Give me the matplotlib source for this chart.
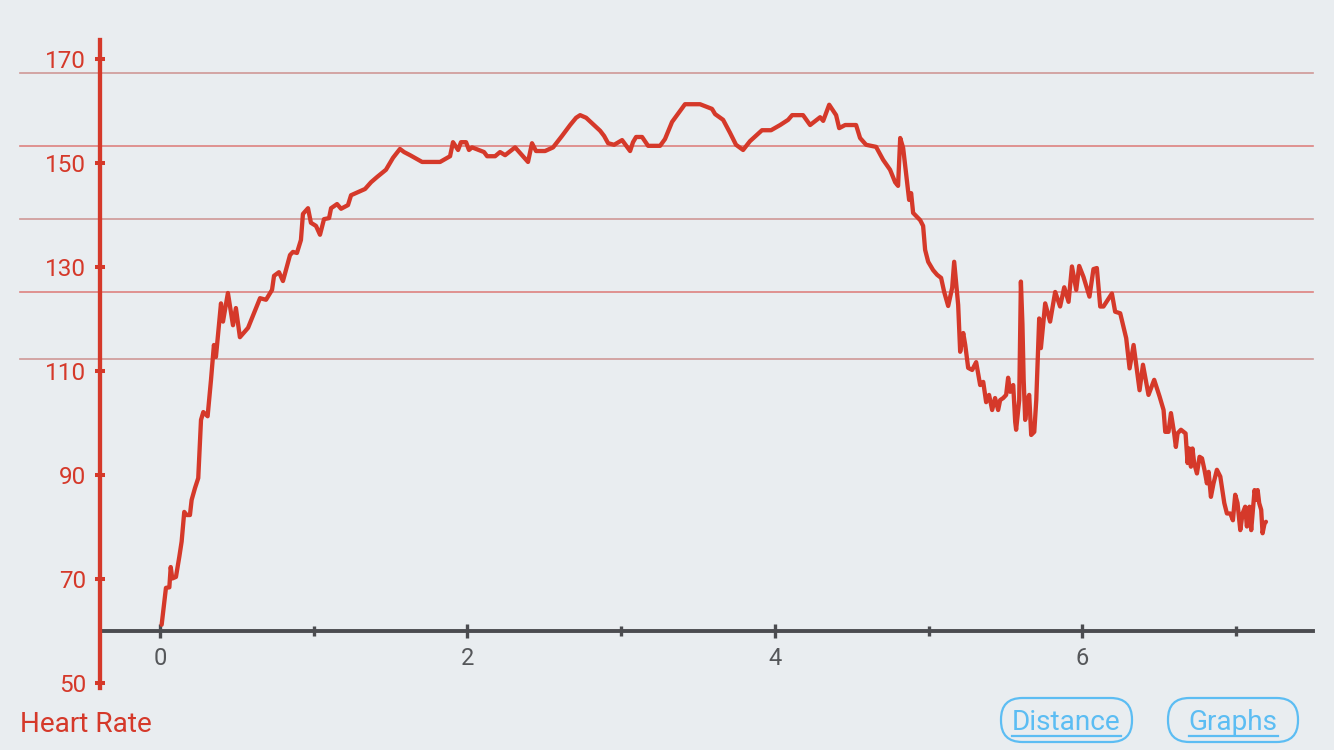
import matplotlib
matplotlib.use("Agg")
import matplotlib.pyplot as plt
from matplotlib.patches import FancyBboxPatch
from matplotlib.lines import Line2D

# ---- data ----
distance = [0.011, 0.039, 0.061, 0.070, 0.080, 0.104, 0.126, 0.141, 0.158, 0.174, 0.195, 0.206, 0.228, 0.249,
            0.267, 0.282, 0.310, 0.332, 0.351, 0.364, 0.384, 0.397, 0.410, 0.442, 0.475, 0.494, 0.520, 0.573,
            0.651, 0.690, 0.729, 0.742, 0.774, 0.800, 0.846, 0.865, 0.891, 0.917, 0.930, 0.963, 0.982, 1.015,
            1.041, 1.067, 1.100, 1.113, 1.152, 1.178, 1.223, 1.243, 1.334, 1.373, 1.412, 1.470, 1.516, 1.561,
            1.588, 1.627, 1.705, 1.822, 1.887, 1.906, 1.939, 1.958, 1.991, 2.010, 2.030, 2.108, 2.128, 2.180,
            2.212, 2.245, 2.310, 2.394, 2.420, 2.446, 2.505, 2.557, 2.615, 2.668, 2.707, 2.733, 2.772, 2.830,
            2.863, 2.889, 2.915, 2.954, 3.006, 3.058, 3.077, 3.097, 3.136, 3.175, 3.253, 3.285, 3.331, 3.415,
            3.513, 3.591, 3.611, 3.663, 3.708, 3.747, 3.793, 3.838, 3.916, 3.975, 4.034, 4.086, 4.112, 4.183,
            4.229, 4.294, 4.314, 4.353, 4.398, 4.418, 4.457, 4.528, 4.554, 4.593, 4.658, 4.704, 4.749, 4.782,
            4.801, 4.815, 4.834, 4.847, 4.873, 4.886, 4.899, 4.945, 4.964, 4.977, 4.997, 5.029, 5.055, 5.081,
            5.101, 5.127, 5.153, 5.166, 5.192, 5.205, 5.225, 5.238, 5.257, 5.283, 5.309, 5.335, 5.355, 5.374,
            5.393, 5.413, 5.432, 5.452, 5.465, 5.485, 5.504, 5.517, 5.530, 5.550, 5.563, 5.569, 5.589, 5.600,
            5.610, 5.618, 5.628, 5.641, 5.654, 5.667, 5.687, 5.700, 5.719, 5.730, 5.758, 5.790, 5.823, 5.855,
            5.882, 5.910, 5.932, 5.960, 5.979, 6.007, 6.046, 6.072, 6.094, 6.116, 6.137, 6.192, 6.213, 6.246,
            6.285, 6.307, 6.333, 6.372, 6.394, 6.430, 6.467, 6.502, 6.528, 6.539, 6.560, 6.576, 6.597, 6.608,
            6.619, 6.641, 6.671, 6.684, 6.695, 6.706, 6.716, 6.727, 6.745, 6.762, 6.778, 6.794, 6.810, 6.821,
            6.836, 6.853, 6.875, 6.897, 6.923, 6.940, 6.962, 6.979, 6.994, 7.009, 7.027, 7.042, 7.059, 7.070,
            7.087, 7.098, 7.120, 7.131, 7.140, 7.150, 7.163, 7.172, 7.185, 7.194]
heart_rate = [61.2, 68.3, 68.4, 72.3, 70.1, 70.4, 74.3, 77.2, 82.9, 82.3, 82.3, 85.2, 87.5, 89.4,
              100.6, 102.1, 101.3, 108.3, 115.0, 112.7, 119.0, 123.0, 119.5, 125.0, 118.8, 122.1, 116.5, 118.3,
              124.0, 123.7, 125.6, 128.3, 129.0, 127.3, 132.3, 132.9, 132.7, 135.2, 140.2, 141.3, 138.5, 137.9,
              136.2, 139.2, 139.4, 141.3, 142.1, 141.2, 141.9, 143.8, 145.0, 146.3, 147.3, 148.7, 151.0, 152.7,
              152.1, 151.5, 150.2, 150.2, 151.3, 154.0, 152.5, 154.0, 154.0, 152.5, 153.0, 152.1, 151.3, 151.3,
              152.1, 151.5, 153.0, 150.2, 153.8, 152.3, 152.3, 153.0, 155.2, 157.3, 158.7, 159.2, 158.7, 157.1,
              156.2, 155.2, 153.8, 153.5, 154.4, 152.3, 154.0, 155.0, 155.0, 153.3, 153.3, 154.6, 157.9, 161.3,
              161.3, 160.4, 159.4, 158.3, 155.8, 153.5, 152.5, 154.2, 156.3, 156.3, 157.3, 158.3, 159.2, 159.2,
              157.3, 158.8, 158.1, 161.2, 159.2, 156.7, 157.3, 157.3, 154.8, 153.5, 153.1, 150.6, 148.7, 146.3,
              145.6, 154.8, 152.9, 149.6, 142.9, 144.2, 140.4, 139.0, 137.9, 133.3, 131.0, 129.4, 128.5, 127.9,
              125.2, 122.5, 126.0, 131.0, 122.7, 113.7, 117.3, 115.0, 110.6, 110.2, 111.7, 107.3, 107.9, 104.0,
              105.4, 102.5, 104.8, 102.5, 104.4, 104.8, 105.4, 108.7, 106.0, 107.3, 100.2, 98.7, 104.4, 127.2,
              119.0, 108.3, 100.6, 104.4, 105.4, 97.7, 98.3, 104.4, 120.1, 114.4, 123.0, 119.5, 125.2, 122.4,
              126.1, 123.3, 130.1, 125.6, 130.2, 128.1, 124.3, 129.6, 129.8, 122.4, 122.4, 124.9, 121.4, 121.1,
              116.3, 110.5, 115.0, 106.3, 111.2, 105.4, 108.3, 105.1, 102.5, 98.3, 98.3, 101.9, 98.0, 95.4,
              98.0, 98.7, 98.0, 92.3, 95.1, 91.6, 95.1, 92.3, 90.3, 93.5, 93.2, 91.0, 88.4, 90.6,
              85.8, 88.4, 91.0, 89.7, 84.6, 82.6, 82.6, 81.3, 86.2, 84.6, 79.4, 82.6, 83.9, 80.1,
              83.9, 79.4, 87.1, 85.2, 87.1, 84.6, 83.3, 78.8, 80.7, 81.0]

y_ticks = [50, 70, 90, 110, 130, 150, 170]
x_major_ticks = [0, 2, 4, 6]
x_minor_ticks = [1, 3, 5, 7]
grid_levels = [167.25, 153.2, 139.17, 125.13, 112.25]
y_title = "Heart Rate"
button_labels = ["Distance", "Graphs"]

# ---- style ----
BG = "#e9edf0"
RED = "#d5392a"
GRID_COLORS = ["#cf9896", "#dd8280", "#cf9896", "#dd8280", "#cf9896"]
AXIS_GREY = "#4b4c50"
TICK_TXT = "#55575a"
BLUE = "#5cbdf3"
FONT = "Roboto"

plt.rcParams["font.family"] = [FONT, "DejaVu Sans"]

W, H = 1334, 750
fig = plt.figure(figsize=(W / 100, H / 100), dpi=100, facecolor=BG)
ax = fig.add_axes([100 / W, 1 - 688 / H, (1313 - 100) / W, (688 - 40) / H])
ax.set_facecolor(BG)

ax.set_xlim(-0.39, 7.50)
ax.set_ylim(49.04, 173.65)

# grid lines (extend beyond left spine)
for g, c in zip(grid_levels, GRID_COLORS):
    ax.axhline(g, xmin=(20 - 100) / (1313 - 100), xmax=1.0, color=c, lw=1.2,
               clip_on=False, zorder=1)

ax.plot(distance, heart_rate, color=RED, lw=3.1, solid_joinstyle="round",
        solid_capstyle="round", zorder=3)

# spines
for s in ["top", "right"]:
    ax.spines[s].set_visible(False)
ax.spines["left"].set_color(RED)
ax.spines["left"].set_linewidth(3.1)
ax.spines["left"].set_zorder(4)
ax.spines["bottom"].set_position(("data", 60))
ax.spines["bottom"].set_color(AXIS_GREY)
ax.spines["bottom"].set_linewidth(2.8)
ax.spines["bottom"].set_zorder(2)

ax.set_yticks(y_ticks)
ax.set_yticklabels([str(v) for v in y_ticks])
ax.tick_params(axis="y", direction="inout", length=7.2, width=2.9, color=RED,
               labelcolor=RED, labelsize=17.5, pad=6.5)

ax.set_xticks(x_major_ticks)
ax.set_xticklabels([str(v) for v in x_major_ticks])
ax.set_xticks(x_minor_ticks, minor=True)
ax.tick_params(axis="x", which="major", direction="inout", length=9.5, width=2.4,
               color=AXIS_GREY, labelcolor=TICK_TXT, labelsize=17, pad=7)
ax.tick_params(axis="x", which="minor", direction="inout", length=6.5, width=2.4,
               color=AXIS_GREY)

for lab in ax.get_xticklabels() + ax.get_yticklabels():
    lab.set_fontfamily(FONT)

# y title
fig.text(20 / W, 1 - 725 / H, y_title, color=RED, fontsize=20.2, family=FONT,
         ha="left", va="center")

# buttons
boxes = [(1001, 698, 1132, 742), (1168, 698, 1298, 742)]
for (x0, y0, x1, y1), label in zip(boxes, button_labels):
    patch = FancyBboxPatch((x0 / W, 1 - y1 / H), (x1 - x0) / W, (y1 - y0) / H,
                           boxstyle="round,pad=0,rounding_size=0.016",
                           transform=fig.transFigure, facecolor="none",
                           edgecolor=BLUE, lw=1.6, mutation_aspect=W / H)
    fig.patches.append(patch)
    cx = (x0 + x1) / 2
    t = fig.text(cx / W, 1 - 722 / H, label, color=BLUE, fontsize=20.2, family=FONT,
                 ha="center", va="center")
    fig.canvas.draw()
    bb = t.get_window_extent()
    fig.add_artist(Line2D([bb.x0 / W, bb.x1 / W], [1 - 736 / H, 1 - 736 / H],
                          transform=fig.transFigure, color=BLUE, lw=1.6))

fig.savefig("out.png", dpi=100, facecolor=BG)
